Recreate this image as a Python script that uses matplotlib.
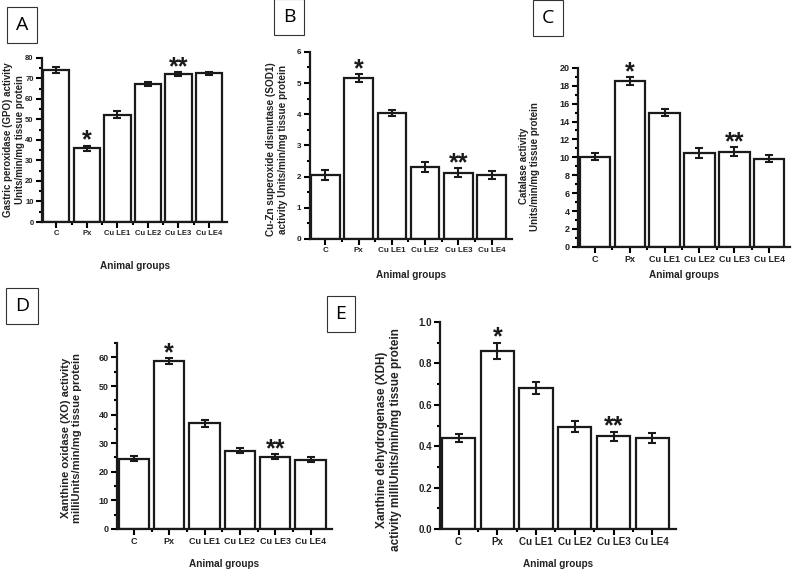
import matplotlib.pyplot as plt
import numpy as np

plt.rcParams['font.family'] = ['Liberation Sans', 'DejaVu Sans']

groups = ['C', 'Px', 'Cu LE1', 'Cu LE2', 'Cu LE3', 'Cu LE4']

gpo = [74.0, 36.0, 52.3, 67.3, 72.0, 72.5]
gpo_err = [1.5, 1.2, 1.8, 1.0, 1.0, 0.8]

sod = [2.05, 5.15, 4.05, 2.30, 2.12, 2.06]
sod_err = [0.15, 0.13, 0.10, 0.17, 0.15, 0.13]

cat = [10.05, 18.5, 15.0, 10.45, 10.65, 9.85]
cat_err = [0.40, 0.45, 0.40, 0.55, 0.45, 0.40]

xo = [24.6, 58.7, 36.9, 27.4, 25.3, 24.2]
xo_err = [0.8, 1.1, 1.2, 0.9, 0.9, 0.8]

xdh = [0.44, 0.86, 0.68, 0.495, 0.448, 0.44]
xdh_err = [0.020, 0.040, 0.030, 0.025, 0.022, 0.025]

stars = ['', '*', '', '', '**', '']

fig = plt.figure(figsize=(7.92, 5.70), dpi=100)


def panel(rect, vals, errs, ylabel, ymax, major, minor, fs, yfs, ylab_xy, xlab_y):
    ax = fig.add_axes(rect)
    x = np.arange(len(groups))
    ax.bar(x, vals, width=0.86, color='white', edgecolor='#1a1a1a', linewidth=1.6, zorder=2)
    ax.errorbar(x, vals, yerr=errs, fmt='none', ecolor='#1a1a1a', elinewidth=1.5,
                capsize=3, capthick=1.5, zorder=3)
    # significance marks just above the error bars
    for xi, v, e, s in zip(x, vals, errs, stars):
        if s:
            ax.annotate(s, (xi, v + e), xytext=(0, -5), textcoords='offset points',
                        ha='center', va='bottom', fontsize=18, fontweight='bold',
                        color='#1a1a1a')
    ax.set_xlim(-0.47, 5.6)
    ax.set_ylim(0, ymax)
    ax.set_yticks(np.arange(0, ymax + 1e-9, major))
    ax.set_yticks(np.arange(0, ymax + 1e-9, minor), minor=True)
    ax.set_xticks(x)
    ax.set_xticklabels(groups)
    ax.set_xticks(x[:-1] + 0.5, minor=True)
    for sp in ['top', 'right']:
        ax.spines[sp].set_visible(False)
    for sp in ['left', 'bottom']:
        ax.spines[sp].set_linewidth(1.6)
        ax.spines[sp].set_color('#1a1a1a')
    ax.tick_params(axis='both', which='major', length=4, width=1.5, labelsize=fs, pad=2)
    ax.tick_params(axis='both', which='minor', length=2.5, width=1.5)
    for lab in ax.get_xticklabels() + ax.get_yticklabels():
        lab.set_fontweight('bold')
        lab.set_color('#222222')
    ax.set_ylabel(ylabel, fontsize=yfs, fontweight='bold', color='#222222')
    ax.yaxis.set_label_coords(*ylab_xy)
    ax.set_xlabel('Animal groups', fontsize=7.2, fontweight='bold', color='#222222')
    ax.xaxis.set_label_coords(0.5, xlab_y)
    return ax


panel([0.053, 0.6105, 0.234, 0.288], gpo, gpo_err,
      'Gastric peroxidase (GPO) activity\nUnits/min/mg tissue protein',
      80, 10, 5, 5.5, 7.0, (-0.092, 0.5), -0.238)
panel([0.391, 0.581, 0.255, 0.328], sod, sod_err,
      'Cu-Zn superoxide dismutase (SOD1)\nactivity Units/min/mg tissue protein',
      6, 1, 0.5, 5.8, 7.2, (-0.109, 0.48), -0.166)
panel([0.730, 0.567, 0.268, 0.314], cat, cat_err,
      'Catalase activity\nUnits/min/mg tissue protein',
      20, 2, 1, 6.5, 7.0, (-0.179, 0.45), -0.128)
panel([0.148, 0.072, 0.271, 0.326], xo, xo_err,
      'Xanthine oxidase (XO) activity\nmilliUnits/min/mg tissue protein',
      65, 10, 5, 6.5, 8.0, (-0.163, 0.49), -0.161)
ax_e = panel([0.556, 0.072, 0.297, 0.363], xdh, xdh_err,
             'Xanthine dehydrogenase (XDH)\nactivity milliUnits/min/mg tissue protein',
             1.0, 0.2, 0.1, 7, 8.5, (-0.162, 0.43), -0.145)
ax_e.yaxis.set_major_formatter(plt.FormatStrFormatter('%.1f'))

# panel letters in boxes
letters = [('A', 22, 25), ('B', 289, 17), ('C', 548, 18), ('D', 22, 306), ('E', 341, 314)]
for letter, px, py in letters:
    fig.text(px / 792, 1 - py / 570, letter, ha='center', va='center', fontsize=14,
             family=['Open Sans', 'DejaVu Sans'],
             bbox=dict(boxstyle='square,pad=0.45', facecolor='white', edgecolor='#333333', linewidth=0.8))

fig.savefig('out.png', dpi=100)
